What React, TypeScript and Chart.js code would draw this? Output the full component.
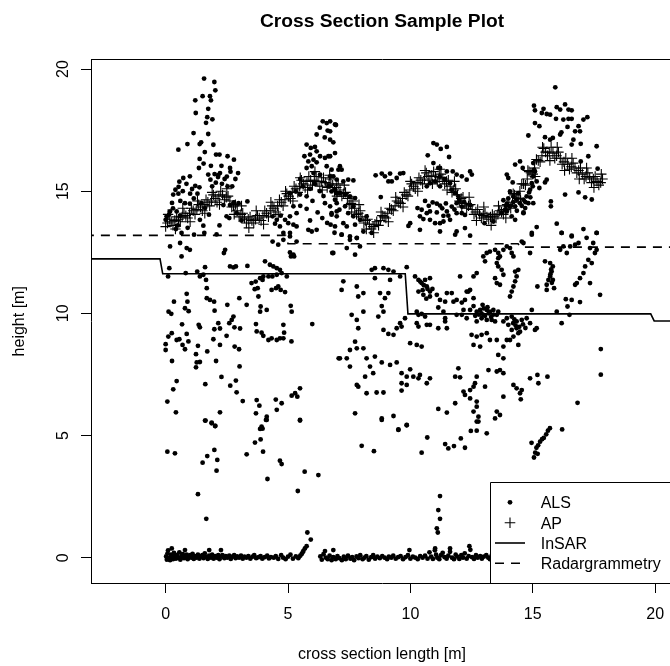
import React, { useEffect, useRef } from 'react';
import { Chart, registerables } from 'chart.js';

Chart.register(...registerables);

const FONT = '"Liberation Sans", Arial, Helvetica, sans-serif';

const chartTitle = 'Cross Section Sample Plot';
const xAxisTitle = 'cross section length [m]';
const yAxisTitle = 'height [m]';
const xTicks = [0, 5, 10, 15, 20];
const yTicks = [0, 5, 10, 15, 20];
const xRange = [-3.05, 20.73];
const yRange = [-1.036, 20.39];
const legendLabels = ['ALS', 'AP', 'InSAR', 'Radargrammetry'];

// ALS ground returns
const alsGround: [number, number][] = [
  [0.02, 0.05], [0.05, -0.08], [0.08, 0.18], [0.1, 0.3], [0.14, 0.0], [0.18, -0.1], [0.22, 0.12], [0.26, 0.02],
  [0.3, -0.06], [0.34, 0.2], [0.38, 0.08], [0.42, -0.04], [0.47, 0.1], [0.52, 0.0], [0.56, 0.22], [0.6, -0.08],
  [0.65, 0.06], [0.7, 0.14], [0.75, -0.02], [0.8, 0.04], [0.86, 0.12], [0.9, -0.06], [0.95, 0.02], [1.0, 0.1],
  [1.05, 0.0], [1.1, 0.16], [1.15, -0.05], [1.2, 0.06], [1.26, 0.0], [1.32, 0.12], [1.38, -0.04], [1.44, 0.05],
  [1.5, 0.1], [1.55, -0.02], [1.6, 0.18], [1.65, 0.04], [1.72, -0.05], [1.78, 0.08], [1.85, 0.0], [1.9, 0.12],
  [1.96, -0.04], [2.02, 0.06], [2.08, 0.0], [2.15, 0.1], [2.2, -0.06], [2.26, 0.04], [2.32, 0.1], [2.4, -0.02],
  [2.46, 0.06], [2.52, 0.0], [2.6, 0.08], [2.66, -0.05], [2.72, 0.04], [2.8, 0.1], [2.86, -0.02], [2.92, 0.05],
  [3.0, 0.0], [3.08, 0.08], [3.15, -0.04], [3.22, 0.04], [3.3, 0.0], [3.38, 0.06], [3.46, -0.04], [3.55, 0.04],
  [3.62, 0.1], [3.7, -0.02], [3.8, 0.02], [3.88, 0.06], [3.95, -0.04], [4.05, 0.02], [4.15, 0.08], [4.22, -0.03],
  [4.3, 0.02], [4.42, 0.0], [4.5, 0.06], [4.6, -0.05], [4.72, 0.1], [4.8, 0.0], [4.9, -0.06], [5.0, 0.04],
  [5.1, 0.12], [5.2, -0.04], [5.32, 0.05], [5.42, -0.02], [5.5, 0.08], [5.56, 0.15], [5.6, 0.22],
  [6.32, 0.05], [6.38, -0.08], [6.45, 0.14], [6.55, 0.0], [6.62, -0.06], [6.7, 0.08], [6.78, -0.1], [6.85, 0.02],
  [6.95, -0.06], [7.02, 0.06], [7.1, -0.02], [7.2, -0.1], [7.28, 0.04], [7.36, -0.06], [7.45, 0.08], [7.55, -0.04],
  [7.62, 0.02], [7.7, -0.1], [7.8, 0.05], [7.88, -0.02], [7.95, 0.1], [8.05, -0.06], [8.12, 0.0], [8.2, 0.06],
  [8.3, -0.08], [8.4, 0.02], [8.48, 0.1], [8.56, -0.04], [8.65, 0.04], [8.75, -0.02], [8.85, 0.06], [8.95, 0.0],
  [9.05, -0.06], [9.12, 0.04], [9.22, 0.0], [9.3, 0.08], [9.4, -0.04], [9.5, 0.02], [9.6, 0.06], [9.7, -0.06],
  [9.8, 0.02], [9.9, 0.1], [10.0, -0.04], [10.1, 0.04], [10.2, 0.0], [10.3, -0.06], [10.4, 0.06], [10.5, 0.0],
  [10.6, 0.08], [10.7, -0.04], [10.78, 0.22], [10.85, 0.04], [10.92, -0.05], [11.0, 0.3], [11.05, 0.12], [11.1, 0.0],
  [11.18, -0.06], [11.25, 0.1], [11.32, 0.2], [11.4, 0.02], [11.48, -0.04], [11.55, 0.08], [11.62, 0.24], [11.7, 0.0],
  [11.78, -0.06], [11.85, 0.12], [11.92, 0.04], [12.0, -0.05], [12.08, 0.1], [12.15, 0.0], [12.22, 0.18], [12.3, -0.04],
  [12.38, 0.06], [12.45, 0.32], [12.52, 0.02], [12.6, -0.05], [12.68, 0.1], [12.75, 0.0], [12.85, 0.06], [12.92, -0.04],
  [13.0, 0.04], [13.1, 0.1], [13.18, 0.0], [13.25, -0.06], [13.32, 0.08], [13.4, 0.02], [13.5, 0.12], [13.58, -0.04],
  [13.66, 0.04], [13.75, 0.1], [13.82, 0.0], [13.9, 0.06], [14.0, -0.04], [14.1, 0.08], [14.2, 0.02], [14.3, 0.1],
  [14.45, 0.0], [14.6, 0.06], [14.75, 0.02], [14.9, 0.08], [15.1, 0.0], [15.3, 0.05], [15.5, 0.02], [15.7, 0.06],
  [15.9, 0.0], [16.2, 0.04], [16.5, 0.0], [16.8, 0.06], [17.1, 0.02], [17.4, 0.04], [17.7, 0.0],
  [11.01, 0.38], [11.62, 0.38], [12.41, 0.47], [9.96, 0.31], [6.51, 0.27], [6.85, 0.31], [0.25, 0.38], [0.79, 0.31],
  [1.78, 0.31], [2.26, 0.31],
];

// ALS returns between 0.5 m and 5.6 m
const alsLow: [number, number][] = [
  [0.07, 4.34], [0.38, 4.27], [1.61, 5.61], [1.88, 5.5], [2.02, 5.39], [1.51, 3.89], [1.7, 4.16], [1.99, 4.41],
  [2.11, 4.0], [2.08, 3.56], [1.32, 2.6], [1.66, 1.59], [3.31, 4.23], [3.65, 4.71], [3.88, 4.84], [3.86, 5.27],
  [3.96, 5.28], [3.98, 4.34], [4.13, 5.64], [4.16, 3.22], [4.67, 3.97], [4.74, 3.83], [5.4, 2.73], [5.68, 3.52],
  [6.24, 3.38], [5.49, 5.61], [8.01, 4.58], [8.51, 4.36], [9.51, 5.23], [9.85, 5.42], [10.46, 4.3], [10.69, 4.92],
  [11.42, 4.65], [11.55, 4.47], [11.78, 4.57], [12.06, 4.88], [12.23, 4.5], [12.47, 5.19], [12.71, 5.2], [12.78, 5.57],
  [13.12, 5.09], [11.21, 2.52], [11.14, 1.95], [11.21, 1.59], [11.08, 1.2], [11.12, 1.03], [5.79, 1.03], [5.93, 0.74],
  [5.76, 0.47], [5.69, 0.38], [5.63, 0.28], [8.83, 5.64],
  [15.05, 4.1], [15.1, 4.3], [15.15, 4.5], [15.22, 4.6], [15.3, 4.75], [15.38, 4.85], [15.45, 4.9], [15.55, 5.05],
  [15.62, 5.2], [15.2, 4.25], [15.7, 5.3], [14.95, 4.7], [16.2, 5.25],
];

// ALS returns between 5.2 m and 13.4 m (left half)
const alsMidLeft: [number, number][] = [
  [0.18, 12.74], [0.59, 12.88], [0.65, 12.33], [0.99, 12.6], [0.86, 12.67], [2.38, 12.47], [2.43, 12.6], [0.15, 11.85],
  [0.1, 11.51], [0.82, 11.65], [1.29, 11.71], [1.4, 11.51], [1.61, 11.89], [1.65, 11.37], [1.54, 11.58], [1.68, 11.03],
  [0.86, 10.8], [0.89, 10.48], [0.34, 10.48], [0.12, 10.07], [0.23, 9.98], [0.79, 10.21], [0.94, 10.09], [1.68, 10.62],
  [1.81, 10.55], [1.98, 10.48], [2.0, 10.11], [2.52, 10.35], [3.01, 10.62], [3.31, 10.35], [2.77, 9.87], [2.7, 9.73],
  [2.6, 9.6], [2.15, 9.6], [2.22, 9.38], [1.99, 9.35], [1.35, 9.53], [1.4, 9.43], [0.67, 9.55], [0.86, 9.16],
  [0.25, 9.19], [0.11, 9.05], [0.0, 8.74], [0.0, 8.5], [0.45, 8.91], [0.56, 8.94], [0.69, 8.71], [0.93, 8.85],
  [0.79, 8.53], [1.32, 8.67], [1.7, 8.44], [1.95, 8.94], [2.22, 8.71], [2.49, 9.08], [2.81, 9.43], [3.04, 9.38],
  [0.26, 8.05], [1.24, 8.33], [1.27, 7.99], [1.4, 8.01], [1.24, 7.79], [2.06, 8.05], [2.82, 8.64], [3.0, 8.53],
  [3.02, 7.83], [2.28, 7.4], [1.62, 7.1], [0.45, 7.23], [0.31, 6.89], [2.64, 7.04], [2.87, 7.25], [2.9, 6.77],
  [0.07, 6.39], [0.42, 5.95], [2.22, 5.95], [3.15, 6.41], [1.63, 5.61], [1.88, 5.53], [2.03, 5.39], [3.72, 6.45],
  [3.83, 6.22], [3.69, 5.91], [4.13, 5.77], [4.1, 5.64], [4.5, 6.47], [4.74, 6.32], [4.54, 6.05], [5.15, 6.63],
  [5.29, 6.73], [5.38, 6.59], [5.49, 6.93], [5.49, 5.64], [3.92, 5.36], [2.63, 11.92], [2.77, 11.88], [3.34, 11.94],
  [2.87, 11.92], [4.06, 12.13], [4.26, 11.99], [4.4, 11.92], [4.54, 11.85], [4.67, 11.78], [4.74, 11.65], [4.95, 11.51],
  [3.96, 11.37], [3.86, 11.44], [3.68, 11.3], [3.51, 11.24], [3.64, 10.99], [3.76, 11.03], [3.99, 11.51], [4.2, 11.51],
  [4.36, 11.51], [4.54, 11.58], [3.79, 10.69], [3.88, 10.28], [3.86, 10.07], [4.13, 10.14], [4.33, 10.96], [4.51, 11.03],
  [4.6, 11.1], [4.7, 10.96], [4.88, 10.87], [5.11, 10.31], [5.15, 10.07], [3.69, 9.56], [3.72, 9.26], [3.92, 9.21],
  [3.99, 9.08], [4.2, 8.91], [4.33, 8.98], [4.54, 8.91], [4.67, 8.98], [4.81, 8.98], [4.84, 9.21], [4.81, 9.53],
  [5.14, 8.85], [5.99, 9.56], [4.37, 12.94], [4.6, 12.81], [4.81, 13.01], [5.08, 13.15], [5.35, 12.94], [5.22, 12.4],
  [5.25, 12.33], [5.08, 12.49], [5.12, 12.33], [6.81, 12.47], [7.07, 8.16],
];

// ALS returns between 5.2 m and 13.4 m (right half)
const alsMidRight: [number, number][] = [
  [7.19, 13.22], [7.53, 13.01], [7.81, 13.09], [7.4, 12.67], [7.94, 12.74], [7.74, 12.4], [6.85, 12.47], [8.42, 11.78],
  [8.55, 11.85], [8.9, 11.85], [9.1, 11.78], [9.31, 11.71], [8.55, 11.44], [9.17, 11.37], [9.58, 11.51], [9.85, 11.89],
  [7.26, 11.31], [7.19, 10.96], [7.81, 11.1], [7.87, 10.69], [8.08, 10.83], [8.76, 10.83], [8.96, 10.62], [8.83, 10.3],
  [9.1, 10.83], [8.9, 10.07], [7.6, 9.94], [8.08, 10.07], [7.81, 9.73], [7.87, 9.39], [8.69, 9.87], [8.9, 9.32],
  [9.1, 9.16], [9.31, 9.12], [9.44, 9.39], [9.64, 9.46], [9.58, 9.6], [9.78, 9.8], [9.99, 8.78], [10.26, 8.71],
  [10.46, 8.64], [7.74, 8.84], [7.53, 8.5], [7.81, 8.57], [8.08, 8.57], [7.12, 8.16], [7.4, 8.16], [8.21, 8.16],
  [8.55, 8.23], [7.53, 7.82], [8.35, 7.82], [8.83, 7.99], [9.17, 7.89], [9.44, 7.99], [9.64, 7.55], [9.99, 7.71],
  [9.85, 7.41], [10.12, 7.41], [10.33, 7.34], [10.39, 7.48], [10.67, 7.14], [10.8, 7.34], [9.64, 7.14], [9.85, 7.07],
  [7.81, 7.07], [7.87, 7.0], [8.15, 7.41], [8.48, 7.55], [8.21, 6.73], [8.62, 6.76], [8.9, 6.76], [9.64, 6.84],
  [7.74, 5.91], [8.83, 5.7], [9.31, 5.8], [9.85, 5.43], [9.51, 5.25],
  [10.19, 11.51], [10.33, 11.37], [10.46, 11.24], [10.6, 11.37], [10.8, 11.44], [10.67, 11.1], [10.8, 10.89], [10.33, 10.89],
  [10.53, 10.76], [10.8, 10.69], [11.08, 10.76], [11.21, 10.55], [11.42, 10.48], [11.49, 10.83], [11.69, 10.83], [11.76, 10.48],
  [11.89, 10.55], [12.1, 10.44], [12.23, 10.55], [12.3, 10.89], [12.44, 10.96], [12.58, 10.62], [11.14, 10.24], [11.35, 10.07],
  [10.26, 10.07], [10.33, 9.94], [10.46, 9.98], [10.6, 9.87], [10.26, 9.6], [10.33, 9.46], [10.67, 9.53], [10.8, 9.53],
  [11.14, 9.39], [11.42, 9.67], [11.49, 9.39], [11.42, 9.8], [11.89, 9.94], [12.1, 9.94], [12.3, 9.8], [12.17, 10.14],
  [12.44, 10.14], [12.58, 10.3], [12.71, 10.07], [12.85, 10.14], [12.98, 9.94], [13.12, 10.14], [13.25, 10.07], [13.39, 10.14],
  [12.91, 9.8], [13.12, 9.73], [12.71, 9.67], [13.32, 9.73], [13.46, 9.67], [13.53, 9.94], [13.59, 10.07], [13.8, 9.67],
  [13.94, 9.8], [14.14, 9.87], [14.34, 9.67], [14.55, 9.73], [14.75, 9.8], [14.89, 9.6], [15.09, 9.32], [15.16, 9.39],
  [14.0, 9.53], [14.14, 9.32], [14.34, 9.39], [14.41, 9.19], [14.48, 9.25], [14.07, 8.91], [14.21, 9.05], [13.94, 8.91],
  [12.5, 9.12], [12.71, 9.05], [12.91, 9.12], [13.12, 9.19], [13.25, 8.91], [13.53, 8.91], [12.58, 8.71], [12.85, 8.64],
  [13.8, 8.64], [14.41, 8.71], [13.59, 8.3], [13.8, 8.16], [13.53, 7.62], [13.8, 7.55], [13.66, 7.68], [13.19, 7.68],
  [11.96, 7.75], [11.83, 7.41], [12.03, 7.38], [12.71, 7.41], [13.05, 7.0], [12.64, 7.14], [12.58, 7.0], [12.44, 6.86],
  [12.17, 6.8], [12.23, 6.66], [12.44, 6.52], [11.83, 6.32], [12.71, 6.39], [12.71, 6.18], [12.58, 5.98], [12.78, 5.77],
  [12.71, 5.57], [11.14, 6.09], [11.49, 5.94], [13.53, 5.98], [13.66, 5.84], [13.46, 5.7], [13.8, 6.59], [14.21, 7.07],
  [14.34, 6.93], [14.48, 6.73], [14.55, 6.86], [14.51, 6.48], [14.89, 7.34], [15.19, 7.48], [15.23, 7.14], [15.6, 7.41],
  [14.96, 10.14], [15.98, 10.07], [16.18, 9.6], [16.42, 10.28], [16.5, 9.94], [16.35, 10.58], [16.59, 10.55], [16.93, 10.46],
  [16.83, 6.34], [17.78, 8.54], [17.78, 7.49], [17.75, 10.76], [12.98, 12.33], [13.12, 12.47], [13.25, 12.53], [13.46, 12.6],
  [13.59, 12.47], [13.66, 12.33], [13.8, 12.6], [13.94, 12.74], [14.07, 12.67], [14.14, 12.47], [14.21, 12.33], [13.53, 12.06],
  [13.59, 11.92], [13.73, 11.78], [13.8, 11.58], [13.46, 11.44], [13.53, 11.24], [13.66, 11.17], [14.28, 11.71], [14.41, 11.78],
  [14.34, 11.51], [14.28, 11.31], [14.21, 11.1], [14.14, 10.89], [14.07, 10.69], [13.59, 12.26], [13.05, 12.13], [12.71, 11.65],
  [12.58, 11.51], [12.03, 11.51], [12.37, 10.89], [14.96, 13.22], [16.18, 13.29], [16.59, 13.15], [17.2, 13.09], [17.61, 13.29],
  [16.87, 12.88], [16.73, 12.81], [16.53, 12.74], [16.25, 12.74], [16.12, 12.6], [16.39, 12.47], [17.34, 12.67], [17.47, 12.88],
  [17.61, 12.6], [17.54, 12.47], [17.27, 12.19], [17.14, 11.92], [17.07, 11.65], [16.93, 11.44], [16.8, 11.24], [16.73, 11.17],
  [17.41, 12.06], [17.34, 11.24], [14.62, 12.88], [14.55, 12.94], [14.89, 12.47], [15.5, 12.13], [15.71, 12.06], [15.82, 11.92],
  [15.77, 11.71], [15.71, 11.51], [15.64, 11.37], [15.57, 11.17], [15.82, 11.37], [15.87, 11.03], [15.19, 11.1], [15.57, 10.96],
  [12.9, 10.0], [13.0, 10.2], [13.05, 9.9], [13.2, 10.0], [13.3, 9.85], [13.15, 10.25], [12.95, 10.35], [13.4, 9.95],
  [12.8, 9.95], [12.65, 9.9], [10.4, 11.3], [10.55, 11.15], [10.7, 11.0], [10.5, 10.95], [10.65, 10.6], [10.9, 11.0],
  [14.2, 9.6], [14.3, 9.5], [14.45, 9.45], [14.6, 9.55], [14.7, 9.4], [14.25, 9.75], [15.75, 11.8], [15.72, 11.6],
  [15.78, 11.25],
];

// ALS returns above 13 m
const alsHigh: [number, number][] = [
  [1.57, 19.61], [1.99, 19.47], [2.03, 19.13], [1.21, 18.72], [1.51, 18.89], [1.81, 18.89], [1.85, 18.72], [1.23, 18.2],
  [1.74, 18.37], [1.7, 18.03], [1.91, 17.94], [1.14, 17.38], [1.74, 17.34], [0.52, 16.7], [0.89, 16.93], [1.39, 16.93],
  [2.06, 16.5], [2.53, 16.43], [2.79, 16.29], [1.39, 16.32], [1.55, 16.13], [1.85, 16.04], [2.28, 16.04], [2.63, 15.95],
  [1.36, 15.95], [2.0, 15.7], [2.15, 15.66], [2.22, 15.74], [2.14, 15.58], [1.74, 15.68], [2.96, 15.74], [0.72, 15.54],
  [0.99, 15.61], [0.56, 15.39], [0.53, 15.18], [1.21, 15.22], [1.38, 15.16], [1.08, 15.09], [1.83, 15.47], [2.41, 15.5],
  [2.85, 15.5], [2.72, 15.2], [2.53, 15.2], [0.4, 15.06], [0.52, 14.9], [0.31, 14.86], [0.79, 14.51], [0.99, 14.49],
  [0.26, 14.52], [1.46, 14.51], [2.36, 14.43], [2.63, 14.43], [2.79, 14.54], [2.98, 14.51], [3.34, 14.58], [1.61, 14.31],
  [0.18, 14.17], [0.14, 14.04], [0.45, 14.17], [0.59, 13.99], [1.4, 13.83], [1.77, 14.04], [2.49, 13.97], [0.04, 13.97],
  [0.0, 13.83], [1.54, 13.59], [0.42, 13.45], [0.65, 13.29], [1.16, 13.22], [1.58, 13.29], [2.08, 13.23],
  [6.17, 17.32], [6.42, 17.86], [6.58, 17.79], [6.72, 17.86], [6.96, 17.71], [6.62, 17.48], [6.72, 17.11], [5.76, 16.91],
  [5.93, 16.77], [6.1, 16.81], [6.17, 16.63], [5.67, 16.43], [5.9, 16.5], [6.31, 16.43], [6.51, 16.36], [6.65, 16.43],
  [5.83, 16.22], [6.04, 16.29], [6.17, 16.18], [5.97, 16.02], [5.76, 15.95], [6.58, 16.02], [6.78, 15.88], [6.04, 15.74],
  [6.31, 15.68], [6.85, 15.61], [7.06, 15.88], [5.08, 14.92], [5.31, 14.99], [5.49, 14.86], [5.76, 14.79], [6.65, 15.2],
  [6.78, 14.99], [6.99, 14.92], [6.92, 14.65], [6.51, 14.51], [6.72, 14.38], [5.22, 14.38], [5.35, 14.1], [5.76, 14.28],
  [6.21, 14.13], [5.08, 13.97], [4.88, 13.83], [5.01, 13.69], [5.22, 13.63], [5.35, 13.56], [5.83, 13.42], [5.97, 13.35],
  [6.17, 13.42], [6.74, 13.63], [6.92, 13.56], [4.37, 13.97], [4.54, 13.83], [4.67, 13.56], [4.47, 13.67], [4.81, 13.29],
  [5.08, 13.29], [6.99, 13.97], [6.78, 14.04], [7.1, 14.24],
  [6.92, 17.73], [6.72, 17.45], [6.92, 16.56], [6.72, 16.43], [7.12, 16.02], [7.19, 15.88], [6.72, 15.61], [6.99, 15.47],
  [7.26, 15.4], [7.46, 15.47], [7.67, 15.44], [6.72, 15.2], [6.92, 15.06], [7.12, 14.92], [7.33, 14.86], [7.53, 14.79],
  [7.74, 14.72], [6.99, 14.51], [7.33, 14.38], [7.67, 14.38], [6.78, 14.1], [6.99, 14.17], [7.46, 14.1], [7.67, 13.97],
  [7.94, 13.83], [8.21, 13.97], [7.26, 13.69], [7.4, 13.56], [7.74, 13.63], [7.19, 13.22], [7.53, 13.15], [7.81, 13.08],
  [8.08, 13.35], [8.42, 13.29], [8.58, 15.65], [8.83, 15.72], [8.96, 15.61], [9.17, 15.72], [9.1, 15.4], [9.24, 15.4],
  [9.44, 15.54], [9.58, 15.72], [9.71, 15.74], [8.79, 14.76], [10.71, 16.47], [10.94, 16.97], [11.08, 16.91], [11.24, 16.73],
  [11.49, 16.81], [11.58, 16.4], [10.94, 16.15], [11.14, 15.95], [11.21, 15.95], [11.49, 15.81], [11.73, 15.81], [11.89, 15.68],
  [12.1, 15.61], [12.3, 15.47], [12.44, 15.81], [12.51, 15.68], [10.67, 15.2], [10.8, 15.33], [11.01, 15.4], [11.21, 15.2],
  [11.62, 15.33], [11.69, 15.06], [11.83, 14.92], [11.96, 14.79], [10.29, 14.31], [10.46, 14.24], [10.67, 14.1], [10.8, 14.17],
  [10.91, 14.54], [11.08, 14.49], [11.21, 14.41], [11.08, 14.13], [11.35, 13.99], [11.49, 14.17], [11.69, 14.37], [11.89, 14.51],
  [12.1, 14.37], [12.44, 14.44], [10.39, 13.97], [10.53, 13.86], [10.8, 13.83], [11.01, 13.69], [11.21, 13.69], [11.35, 13.76],
  [11.62, 13.83], [11.89, 14.1], [12.1, 14.1], [12.23, 14.03], [9.99, 13.69], [9.92, 13.58], [10.39, 13.42], [11.21, 13.35],
  [11.89, 13.35], [11.83, 13.22], [12.23, 13.49], [12.44, 13.18], [13.03, 13.69], [13.39, 13.76], [13.73, 14.1], [13.94, 14.17],
  [14.14, 13.97], [14.28, 13.83], [14.62, 14.1], [15.92, 19.25], [15.05, 18.5], [15.09, 18.31], [15.44, 18.37], [15.37, 18.2],
  [15.57, 18.16], [15.71, 18.13], [15.98, 18.44], [16.12, 18.34], [16.32, 18.55], [16.46, 18.34], [16.59, 18.31], [15.95, 17.96],
  [16.25, 17.93], [16.46, 17.96], [16.59, 17.96], [17.07, 17.93], [17.23, 18.03], [15.09, 17.79], [15.27, 17.66], [16.42, 17.63],
  [16.87, 17.66], [16.93, 17.45], [16.73, 17.45], [16.17, 17.41], [16.12, 17.32], [14.82, 17.28], [15.5, 17.21], [15.71, 17.11],
  [15.82, 17.18], [16.66, 17.11], [16.59, 16.91], [16.96, 16.94], [17.61, 16.84], [14.28, 16.09], [14.48, 16.22], [14.59, 15.95],
  [13.94, 15.68], [14.0, 15.54], [14.18, 15.36], [15.02, 16.15], [15.09, 15.81], [15.16, 15.4], [15.5, 15.36], [15.57, 15.47],
  [15.27, 15.13], [16.32, 14.86], [16.87, 14.95], [17.14, 14.75], [17.41, 14.66], [16.96, 16.22], [17.27, 16.43], [17.65, 15.92],
  [15.74, 14.58], [15.74, 14.38], [14.62, 14.13], [15.02, 14.51], [15.98, 13.67], [15.16, 13.53], [14.96, 13.29], [16.18, 13.29],
  [16.59, 13.18], [17.07, 13.45], [17.61, 13.29], [13.8, 14.63], [13.94, 14.49], [14.07, 14.38], [14.21, 14.79], [14.34, 14.65],
  [14.41, 14.92], [14.48, 14.51], [14.62, 14.65], [14.75, 14.79], [14.82, 14.51], [14.89, 15.06], [14.96, 15.33], [15.02, 15.61],
  [15.05, 15.88], [14.07, 14.99], [14.28, 14.38], [14.69, 14.31], [13.87, 14.24],
  [14.55, 14.4], [14.7, 14.55], [14.9, 14.75], [14.85, 14.95], [15.0, 15.2], [14.2, 14.55], [14.0, 14.7], [13.9, 14.4],
  [14.35, 14.2], [10.6, 14.6], [10.75, 14.4], [11.3, 14.3], [11.45, 14.5], [11.55, 14.0], [11.8, 14.25], [12.0, 14.6],
  [12.2, 14.55], [11.2, 15.6], [11.4, 15.5], [0.6, 14.6], [0.7, 15.0], [0.85, 15.3], [1.0, 14.9], [1.15, 14.7],
  [1.3, 14.9], [1.9, 15.2], [2.05, 15.35], [2.3, 15.3], [2.5, 15.6], [2.65, 15.8], [1.6, 16.6], [1.45, 17.0],
  [1.65, 17.8], [1.95, 16.9], [2.2, 16.5], [0.3, 14.3], [0.5, 13.6], [0.9, 13.5], [2.2, 13.6], [2.6, 13.9],
  [2.9, 14.1], [3.1, 13.8], [5.5, 15.5], [5.6, 15.2], [5.9, 15.1], [6.1, 15.3], [6.3, 15.0], [6.45, 14.8],
  [6.0, 14.6], [5.5, 14.4], [5.9, 13.8], [6.4, 13.9], [6.6, 13.7], [6.9, 13.3], [4.7, 14.0], [6.5, 17.2],
  [6.85, 17.0], [6.3, 17.6],
];

// AP (aerial photogrammetry) surface heights, first pass
const apPoints: [number, number][] = [
  [0.0, 13.55], [0.15, 13.85], [0.3, 13.6], [0.45, 13.95], [0.6, 13.75], [0.75, 14.1], [0.9, 13.9], [1.05, 14.3],
  [1.2, 14.05], [1.35, 14.45], [1.5, 14.2], [1.65, 14.65], [1.8, 14.4], [1.95, 14.85], [2.1, 14.55], [2.25, 15.0],
  [2.4, 14.65], [2.55, 14.8], [2.7, 14.35], [2.85, 14.45], [3.0, 13.95], [3.15, 14.1], [3.3, 13.7], [3.45, 13.95],
  [3.6, 13.7], [3.75, 14.0], [3.9, 13.8], [4.05, 14.2], [4.2, 13.95], [4.35, 14.4], [4.5, 14.15], [4.65, 14.65],
  [4.8, 14.4], [4.95, 14.9], [5.1, 14.7], [5.25, 15.2], [5.4, 14.95], [5.55, 15.45], [5.7, 15.15], [5.85, 15.6],
  [6.0, 15.25], [6.15, 15.6], [6.3, 15.2], [6.45, 15.55], [6.6, 15.15], [6.75, 15.5], [6.9, 15.0], [7.05, 15.3],
  [7.2, 14.8], [7.35, 14.95], [7.5, 14.45], [7.65, 14.6], [7.8, 14.05], [7.95, 14.2], [8.1, 13.7], [8.25, 13.85],
  [8.4, 13.45], [8.55, 13.65], [8.7, 13.6], [8.85, 14.0], [9.0, 13.9], [9.15, 14.3], [9.3, 14.2], [9.45, 14.6],
  [9.6, 14.5], [9.75, 14.95], [9.9, 14.8], [10.05, 15.3], [10.2, 15.1], [10.35, 15.55], [10.5, 15.3], [10.65, 15.75],
  [10.8, 15.45], [10.95, 15.8], [11.1, 15.4], [11.25, 15.7], [11.4, 15.3], [11.55, 15.45], [11.7, 14.95], [11.85, 15.1],
  [12.0, 14.6], [12.15, 14.75], [12.3, 14.3], [12.45, 14.45], [12.6, 14.05], [12.75, 14.25], [12.9, 13.9], [13.05, 14.1],
  [13.2, 13.85], [13.35, 14.05], [13.5, 13.9], [13.65, 14.2], [13.8, 14.05], [13.95, 14.45], [14.1, 14.3], [14.25, 14.85],
  [14.4, 14.7], [14.55, 15.3], [14.7, 15.25], [14.85, 15.8], [15.0, 15.7], [15.15, 16.3], [15.3, 16.2], [15.45, 16.75],
  [15.6, 16.45], [15.75, 16.8], [15.9, 16.35], [16.05, 16.6], [16.2, 16.1], [16.35, 16.35], [16.5, 15.9], [16.65, 16.15],
  [16.8, 15.75], [16.95, 15.95], [17.1, 15.5], [17.25, 15.75], [17.4, 15.35], [17.55, 15.6], [17.7, 15.25], [17.85, 15.5],
];

// AP surface heights, second pass (interleaved)
const apPoints2: [number, number][] = [
  [0.075, 13.7], [0.225, 13.75], [0.375, 13.8], [0.525, 13.85], [0.675, 13.95], [0.825, 14.0], [0.975, 14.1], [1.125, 14.2],
  [1.275, 14.25], [1.425, 14.35], [1.575, 14.45], [1.725, 14.55], [1.875, 14.6], [2.025, 14.7], [2.175, 14.8], [2.325, 14.85],
  [2.475, 14.75], [2.625, 14.6], [2.775, 14.4], [2.925, 14.2], [3.075, 14.05], [3.225, 13.9], [3.375, 13.85], [3.525, 13.8],
  [3.675, 13.85], [3.825, 13.9], [3.975, 14.0], [4.125, 14.1], [4.275, 14.2], [4.425, 14.3], [4.575, 14.4], [4.725, 14.55],
  [4.875, 14.65], [5.025, 14.8], [5.175, 14.95], [5.325, 15.1], [5.475, 15.2], [5.625, 15.3], [5.775, 15.4], [5.925, 15.45],
  [6.075, 15.45], [6.225, 15.4], [6.375, 15.4], [6.525, 15.35], [6.675, 15.3], [6.825, 15.25], [6.975, 15.15], [7.125, 15.05],
  [7.275, 14.9], [7.425, 14.7], [7.575, 14.5], [7.725, 14.3], [7.875, 14.1], [8.025, 13.95], [8.175, 13.8], [8.325, 13.65],
  [8.475, 13.55], [8.625, 13.75], [8.775, 13.8], [8.925, 13.95], [9.075, 14.1], [9.225, 14.25], [9.375, 14.4], [9.525, 14.55],
  [9.675, 14.7], [9.825, 14.85], [9.975, 15.05], [10.125, 15.2], [10.275, 15.35], [10.425, 15.45], [10.575, 15.5], [10.725, 15.6],
  [10.875, 15.65], [11.025, 15.6], [11.175, 15.55], [11.325, 15.5], [11.475, 15.4], [11.625, 15.2], [11.775, 15.05], [11.925, 14.85],
  [12.075, 14.7], [12.225, 14.5], [12.375, 14.4], [12.525, 14.25], [12.675, 14.15], [12.825, 14.05], [12.975, 14.0], [13.125, 13.95],
  [13.275, 13.95], [13.425, 13.98], [13.575, 14.05], [13.725, 14.15], [13.875, 14.25], [14.025, 14.4], [14.175, 14.55], [14.325, 14.75],
  [14.475, 15.0], [14.625, 15.3], [14.775, 15.5], [14.925, 15.75], [15.075, 15.95], [15.225, 16.25], [15.375, 16.45], [15.525, 16.6],
  [15.675, 16.6], [15.825, 16.55], [15.975, 16.45], [16.125, 16.35], [16.275, 16.2], [16.425, 16.1], [16.575, 16.0], [16.725, 15.95],
  [16.875, 15.85], [17.025, 15.7], [17.175, 15.6], [17.325, 15.55], [17.475, 15.5], [17.625, 15.4], [17.775, 15.35],
];

// AP surface heights, third pass (band edges)
const apPoints3: [number, number][] = [
  [0.1, 14.05], [0.4, 13.45], [0.7, 14.3], [1.0, 13.75], [1.3, 14.6], [1.6, 14.1], [1.9, 14.95], [2.2, 14.45],
  [2.5, 15.1], [2.8, 14.05], [3.1, 14.4], [3.4, 13.5], [3.7, 14.2], [4.0, 13.65], [4.3, 14.55], [4.6, 14.05],
  [4.9, 15.0], [5.2, 14.6], [5.5, 15.55], [5.8, 15.05], [6.1, 15.8], [6.4, 15.05], [6.7, 15.65], [7.0, 14.8],
  [7.3, 15.25], [7.6, 14.15], [7.9, 14.45], [8.2, 13.45], [8.5, 13.3], [8.8, 14.15], [9.1, 13.75], [9.4, 14.75],
  [9.7, 14.35], [10.0, 15.4], [10.3, 15.0], [10.6, 15.85], [10.9, 15.3], [11.2, 15.9], [11.5, 15.05], [11.8, 15.4],
  [12.1, 14.35], [12.4, 14.75], [12.7, 13.8], [13.0, 14.35], [13.3, 13.6], [13.6, 14.4], [13.9, 13.9], [14.2, 14.9],
  [14.5, 14.65], [14.8, 15.85], [15.1, 15.6], [15.4, 16.8], [15.7, 16.25], [16.0, 16.8], [16.3, 15.85], [16.6, 16.35],
  [16.9, 15.5], [17.2, 15.95], [17.5, 15.15], [17.8, 15.7],
];

// InSAR and radargrammetry surface heights (step profiles)
const insarLine: [number, number][] = [
  [-3.3, 12.23], [-0.23, 12.23], [-0.12, 11.62], [9.79, 11.62], [9.9, 9.98], [19.82, 9.98], [19.96, 9.69], [21.5, 9.69],
];
const radarLine: [number, number][] = [
  [-3.3, 13.19], [4.9, 13.19], [5.0, 12.85], [14.4, 12.85], [14.5, 12.71], [21.5, 12.71],
];

const toXY = (arr: [number, number][]) => arr.map(([x, y]) => ({ x, y }));

const decorPlugin = {
  id: 'decor',
  afterDraw(chart: any) {
    const { ctx, chartArea: a, scales } = chart;
    ctx.save();
    ctx.strokeStyle = '#000';
    ctx.fillStyle = '#000';
    ctx.lineWidth = 1;
    ctx.beginPath();
    ctx.moveTo(a.left, 59.5);
    ctx.lineTo(a.right + 1, 59.5);
    ctx.stroke();

    ctx.font = `16px ${FONT}`;
    ctx.textAlign = 'center';
    ctx.textBaseline = 'alphabetic';
    yTicks.forEach((v) => {
      const py = scales.y.getPixelForValue(v);
      ctx.save();
      ctx.translate(67.7, py);
      ctx.rotate(-Math.PI / 2);
      ctx.fillText(String(v), 0, 0);
      ctx.restore();
    });

    ctx.font = `bold 19.2px ${FONT}`;
    ctx.textAlign = 'center';
    ctx.fillText(chartTitle, (a.left + a.right) / 2, 26.5);

    const lx = 490.5;
    const ly = 482.5;
    const lb = a.bottom;
    ctx.fillStyle = '#fff';
    ctx.fillRect(lx, ly, 300, lb - ly);
    ctx.strokeStyle = '#000';
    ctx.beginPath();
    ctx.moveTo(lx, lb);
    ctx.lineTo(lx, ly);
    ctx.lineTo(lx + 300, ly);
    ctx.stroke();
    const rows = [502.3, 522.8, 543.0, 563.3];
    const sx = 510;
    ctx.fillStyle = '#000';
    ctx.beginPath();
    ctx.arc(sx, rows[0], 2.4, 0, Math.PI * 2);
    ctx.fill();
    ctx.lineWidth = 1.1;
    ctx.beginPath();
    ctx.moveTo(sx - 5.3, rows[1]);
    ctx.lineTo(sx + 5.3, rows[1]);
    ctx.moveTo(sx, rows[1] - 5.3);
    ctx.lineTo(sx, rows[1] + 5.3);
    ctx.stroke();
    ctx.lineWidth = 1.6;
    ctx.beginPath();
    ctx.moveTo(495, rows[2]);
    ctx.lineTo(525, rows[2]);
    ctx.stroke();
    ctx.setLineDash([9, 7]);
    ctx.beginPath();
    ctx.moveTo(495, rows[3]);
    ctx.lineTo(525, rows[3]);
    ctx.stroke();
    ctx.setLineDash([]);
    ctx.font = `16px ${FONT}`;
    ctx.textAlign = 'left';
    ctx.textBaseline = 'alphabetic';
    legendLabels.forEach((t, i) => ctx.fillText(t, 540.7, rows[i] + 5.7));
    ctx.restore();
  },
};

export default function App() {
  const ref = useRef<HTMLCanvasElement | null>(null);
  useEffect(() => {
    if (!ref.current) return;
    const chart = new Chart(ref.current, {
      type: 'scatter',
      data: {
        datasets: [
          {
            type: 'scatter',
            label: 'ALS',
            data: toXY([...alsGround, ...alsLow, ...alsMidLeft, ...alsMidRight, ...alsHigh]),
            pointRadius: 2.4,
            pointBackgroundColor: '#000',
            pointBorderWidth: 0,
            order: 3,
          },
          {
            type: 'scatter',
            label: 'AP',
            data: toXY([...apPoints, ...apPoints2, ...apPoints3]),
            pointStyle: 'cross',
            pointRadius: 5.2,
            pointBorderColor: '#000',
            pointBorderWidth: 1.1,
            order: 2,
          },
          {
            type: 'line',
            label: 'InSAR',
            data: toXY(insarLine),
            borderColor: '#000',
            borderWidth: 1.6,
            pointRadius: 0,
            fill: false,
            tension: 0,
            order: 1,
          },
          {
            type: 'line',
            label: 'Radargrammetry',
            data: toXY(radarLine),
            borderColor: '#000',
            borderWidth: 1.6,
            borderDash: [9, 7],
            pointRadius: 0,
            fill: false,
            tension: 0,
            order: 0,
          },
        ] as any,
      },
      options: {
        animation: false,
        responsive: false,
        devicePixelRatio: 1,
        events: [],
        layout: { padding: { left: 0, right: 17, top: 59.5, bottom: 0 } },
        plugins: { legend: { display: false }, tooltip: { enabled: false }, title: { display: false } },
        scales: {
          x: {
            type: 'linear',
            position: 'bottom',
            min: xRange[0],
            max: xRange[1],
            afterBuildTicks: (s: any) => {
              s.ticks = xTicks.map((v) => ({ value: v }));
            },
            afterFit: (s: any) => {
              s.height = 83;
            },
            grid: { drawOnChartArea: false, drawTicks: true, tickLength: 10, color: '#000', lineWidth: 1 },
            border: { display: true, color: '#000', width: 1 },
            ticks: {
              font: { family: FONT, size: 16 },
              color: '#000',
              padding: 12,
              autoSkip: false,
              maxRotation: 0,
              callback: (v: any) => String(v),
            },
            title: {
              display: true,
              text: xAxisTitle,
              font: { family: FONT, size: 16 },
              color: '#000',
              padding: { top: 0, bottom: 1.4 },
            },
          },
          y: {
            type: 'linear',
            position: 'left',
            min: yRange[0],
            max: yRange[1],
            afterBuildTicks: (s: any) => {
              s.ticks = yTicks.map((v) => ({ value: v }));
            },
            afterFit: (s: any) => {
              s.width = 91;
            },
            grid: { drawOnChartArea: false, drawTicks: true, tickLength: 10, color: '#000', lineWidth: 1 },
            border: { display: true, color: '#000', width: 1 },
            ticks: { display: false },
            title: {
              display: true,
              text: yAxisTitle,
              font: { family: FONT, size: 16 },
              color: '#000',
              padding: { top: 10.4, bottom: 0 },
            },
          },
        },
      } as any,
      plugins: [decorPlugin],
    });
    return () => chart.destroy();
  }, []);

  return (
    <div
      style={{
        position: 'fixed',
        left: 0,
        top: 0,
        width: 670,
        height: 666,
        overflow: 'hidden',
        background: '#fff',
      }}
    >
      <canvas ref={ref} width={690} height={666} style={{ width: 690, height: 666, display: 'block' }} />
    </div>
  );
}
